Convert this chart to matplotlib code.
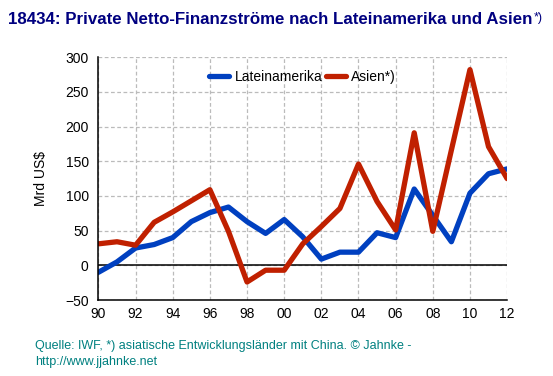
import matplotlib.pyplot as plt

plt.rcParams['font.family'] = ['Liberation Sans', 'DejaVu Sans']

years = list(range(1990, 2013))
latam = [-10, 5, 25, 30, 40, 63, 76, 84, 63, 46, 66, 41, 9, 19, 19, 47, 40, 110, 72, 34, 104, 132, 139]
asia = [31, 34, 29, 62, 77, 93, 109, 49, -24, -7, -7, 31, 56, 82, 146, 92, 51, 191, 49, 166, 282, 171, 125]
xtick_years = list(range(1990, 2013, 2))
xtick_labels = ['%02d' % (y % 100) for y in xtick_years]

fig = plt.figure(figsize=(5.53, 3.76), dpi=100)
ax = fig.add_axes([0.178, 0.202, 0.739, 0.646])

ax.plot(years, latam, color='#0040c0', lw=3.8, label='Lateinamerika', solid_capstyle='round')
ax.plot(years, asia, color='#c02000', lw=3.8, label='Asien*)', solid_capstyle='round')
ax.axhline(0, color='black', lw=1.1, zorder=1)

ax.set_xlim(1990, 2012)
ax.set_ylim(-50, 300)
ax.set_xticks(xtick_years)
ax.set_xticklabels(xtick_labels)
ax.set_yticks(range(-50, 301, 50))
ax.tick_params(length=0, labelsize=10)
ax.tick_params(axis='x', pad=5)
ax.tick_params(axis='y', pad=7)
ax.grid(True, color='#bbbbbb', linestyle=(0, (3, 2)), lw=0.9)
ax.set_axisbelow(True)
for s in ['top', 'right']:
    ax.spines[s].set_visible(False)
ax.spines['left'].set_linewidth(1.1)
ax.spines['bottom'].set_linewidth(1.1)
ax.set_ylabel('Mrd US$', fontsize=10, labelpad=12)

ax.legend(loc='upper center', bbox_to_anchor=(0.5, 1.0), ncol=2, frameon=False,
          fontsize=10, handlelength=1.4, columnspacing=0.3, handletextpad=0.4)

# title, with the smaller "*)" set right after it
title = fig.text(0.014, 0.935, '18434: Private Netto-Finanzströme nach Lateinamerika und Asien',
                 color='#000080', fontsize=12.2, fontweight='bold')
plt.annotate('*)', xy=(1, 1), xycoords=title, xytext=(1, 0), textcoords='offset points',
             ha='left', va='top', color='#000080', fontsize=9)
fig.text(0.063, 0.03, 'Quelle: IWF, *) asiatische Entwicklungsländer mit China. © Jahnke -\nhttp://www.jjahnke.net',
         color='#008080', fontsize=9, linespacing=1.45)

fig.savefig('out.png', dpi=100)
